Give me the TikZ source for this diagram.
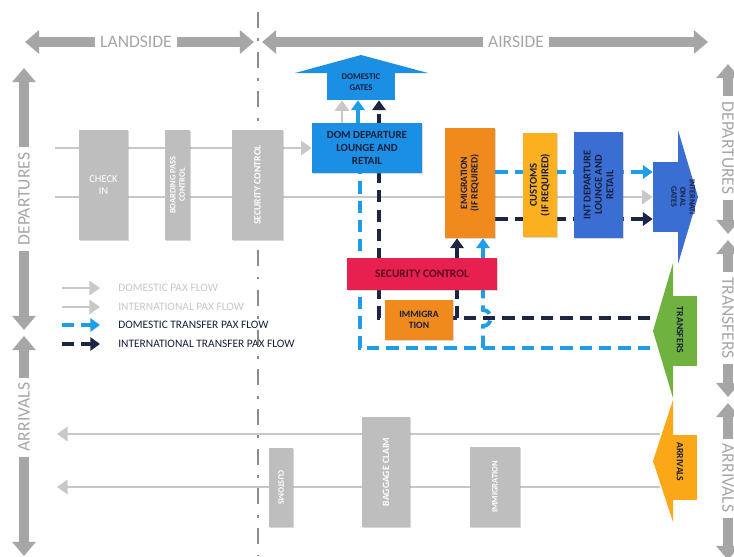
\documentclass[tikz,border=0pt]{standalone}
\usepackage{fontspec}
\setmainfont{Carlito}
\usepackage{xcolor}
\usetikzlibrary{arrows.meta,positioning,backgrounds,shadows}

\definecolor{bandgray}{RGB}{166,166,166}
\definecolor{boxgray}{RGB}{190,190,190}
\definecolor{flowgray}{RGB}{200,200,200}
\definecolor{divgray}{RGB}{140,140,140}
\definecolor{domblue}{RGB}{26,143,227}
\definecolor{intblue}{RGB}{58,110,210}
\definecolor{emigorange}{RGB}{240,138,28}
\definecolor{custyellow}{RGB}{252,176,32}
\definecolor{secred}{RGB}{232,32,80}
\definecolor{secmaroon}{RGB}{90,10,30}
\definecolor{trgreen}{RGB}{112,178,64}
\definecolor{arrorange}{RGB}{250,168,24}
\definecolor{navy}{RGB}{28,38,66}
\definecolor{domdash}{RGB}{30,158,230}
\definecolor{darktxt}{RGB}{25,30,60}

\begin{document}
\begin{tikzpicture}[
    x=0.02cm, y=-0.02cm,
    every node/.style={font=\fontsize{6}{6.5}\selectfont},
    box/.style={inner sep=0pt, drop shadow={opacity=0.3, shadow xshift=0.8pt, shadow yshift=-0.8pt}},
    greybox/.style={box, fill=boxgray},
    boxtxt/.style={font=\fontsize{5.5}{6}\selectfont\bfseries, align=center, text=darktxt},
    whitetxt/.style={boxtxt, text=white},
    band/.style={line width=5.5pt, draw=bandgray, arrows={Triangle[width=13pt,length=8pt]-Triangle[width=13pt,length=8pt]}},
    bandlbl/.style={fill=white, text=bandgray, inner xsep=3pt, inner ysep=1pt, font=\fontsize{10}{10}\selectfont},
    arrowend/.style={arrows={-Triangle[width=7.5pt,length=5.5pt]}},
    paxflow/.style={draw=flowgray, line width=1.6pt, arrows={-Triangle[width=8pt,length=6pt]}},
    domtr/.style={draw=domdash, line width=2.2pt, dash pattern=on 7pt off 4pt},
    inttr/.style={draw=navy, line width=2.2pt, dash pattern=on 7pt off 4pt},
    legtxt/.style={anchor=west, inner sep=0pt, font=\fontsize{6.5}{7}\selectfont}
]
    \useasboundingbox (0,0) rectangle (734,556);

    % Zone bands
    \draw[band] (25,42) -- (254,42);
    \draw[band] (262,42) -- (708,42);
    \node[bandlbl] (landside) at (136,42) {LANDSIDE};
    \node[bandlbl] (airside) at (516,42) {AIRSIDE};

    \draw[band] (24,68) -- (24,330);
    \draw[band] (24,336) -- (24,556);
    \node[bandlbl, rotate=90] (ldep) at (24,199) {DEPARTURES};
    \node[bandlbl, rotate=90] (larr) at (24,417) {ARRIVALS};

    \draw[band] (728,64) -- (728,234);
    \draw[band] (728,240) -- (728,397);
    \draw[band] (728,403) -- (728,560);
    \node[bandlbl, rotate=-90] (rdep) at (728,148) {DEPARTURES};
    \node[bandlbl, rotate=-90] (rtr) at (728,318) {TRANSFERS};
    \node[bandlbl, rotate=-90] (rarr) at (728,478) {ARRIVALS};

    % Landside processes
    \node[greybox, minimum width=0.98cm, minimum height=2.2cm, whitetxt, font=\fontsize{6}{6.5}\selectfont] (checkin) at (103.5,185) {CHECK\\IN};
    \node[greybox, minimum width=0.5cm, minimum height=2.2cm,
        label={[whitetxt, rotate=90, font=\fontsize{4.8}{5.2}\selectfont\bfseries]center:{BOARDING PASS\\CONTROL}}] (boarding) at (177.5,185) {};
    \node[greybox, minimum width=1.02cm, minimum height=2.2cm,
        label={[whitetxt, rotate=90]center:{SECURITY CONTROL}}] (secland) at (257.5,185) {};

    % Domestic airside
    \node[inner sep=0pt, fill=domblue, minimum width=1.36cm, minimum height=0.54cm] (domgates) at (361,86.5) {};
    \fill[domblue] (295,73) -- (361,55) -- (428,73) -- cycle;
    \node[boxtxt, font=\fontsize{5}{6}\selectfont\bfseries] (domgatestxt) at (361,82) {DOMESTIC\\GATES};
    \node[box, fill=domblue, minimum width=2.2cm, minimum height=1cm, boxtxt, font=\fontsize{6.2}{7.5}\selectfont\bfseries] (domdep) at (367,148) {DOM DEPARTURE\\LOUNGE AND\\RETAIL};

    % International airside
    \node[box, fill=emigorange, minimum width=1cm, minimum height=2.2cm,
        label={[boxtxt, rotate=90]center:{EMIGRATION\\(IF REQUIRED)}}] (emig) at (470,183) {};
    \node[box, fill=custyellow, minimum width=0.68cm, minimum height=2.08cm,
        label={[boxtxt, rotate=90, font=\fontsize{6}{6.5}\selectfont\bfseries]center:{CUSTOMS\\(IF REQUIRED)}}] (customs) at (540,185) {};
    \node[box, fill=intblue, minimum width=0.98cm, minimum height=2.12cm,
        label={[boxtxt, rotate=90, font=\fontsize{6}{6.5}\selectfont\bfseries]center:{INT DEPARTURE\\LOUNGE AND\\RETAIL}}] (intdep) at (598.5,185) {};
    \node[inner sep=0pt, fill=intblue, minimum width=0.5cm, minimum height=1.4cm] (intgates) at (665.5,197) {};
    \fill[intblue] (678,130) -- (698,197) -- (678,264) -- cycle;
    \node[boxtxt, rotate=-90, font=\fontsize{4.6}{5.2}\selectfont\bfseries] (intgatestxt) at (683,197) {INTERNATI\\ONAL\\GATES};

    % Transfer processes
    \node[box, fill=secred, minimum width=3cm, minimum height=0.64cm, boxtxt, text=secmaroon, font=\fontsize{6.5}{7}\selectfont\bfseries] (security) at (422,274) {SECURITY CONTROL};
    \node[box, fill=emigorange, minimum width=1.36cm, minimum height=0.8cm, boxtxt] (immig) at (419,320) {IMMIGRA\\TION};

    % Transfers and arrivals
    \node[inner sep=0pt, fill=trgreen, minimum width=0.48cm, minimum height=1.4cm] (transfers) at (685,331) {};
    \fill[trgreen] (673,263) -- (653,331) -- (673,398) -- cycle;
    \node[boxtxt, rotate=-90] (transferstxt) at (680,330) {TRANSFERS};
    \node[inner sep=0pt, fill=arrorange, minimum width=0.48cm, minimum height=1.3cm] (arrivals) at (685,467.5) {};
    \fill[arrorange] (673,400) -- (653,461) -- (673,522) -- cycle;
    \node[boxtxt, rotate=-90] (arrivalstxt) at (680,462) {ARRIVALS};

    % Arrivals processes
    \node[greybox, minimum width=0.48cm, minimum height=1.58cm,
        label={[whitetxt, rotate=-90, font=\fontsize{4.8}{5.2}\selectfont\bfseries]center:{CUSTOMS}}] (customsarr) at (281,487.5) {};
    \node[greybox, minimum width=0.96cm, minimum height=2.2cm,
        label={[whitetxt, rotate=90]center:{BAGGAGE CLAIM}}] (baggage) at (386,472) {};
    \node[greybox, minimum width=1cm, minimum height=1.6cm,
        label={[whitetxt, rotate=90, font=\fontsize{4.8}{5.2}\selectfont\bfseries]center:{IMMIGRATION}}] (immigarr) at (495,487) {};

    % Legend
    \node[legtxt, text=flowgray] (legdom) at (118,288) {DOMESTIC PAX FLOW};
    \node[legtxt, text=flowgray] (legint) at (118,307) {INTERNATIONAL PAX FLOW};
    \node[legtxt, text=darktxt] (legdomtr) at (118,325) {DOMESTIC TRANSFER PAX FLOW};
    \node[legtxt, text=darktxt] (leginttr) at (118,344) {INTERNATIONAL TRANSFER PAX FLOW};

    \coordinate (gx) at (342,0);
    \coordinate (bx) at (358,0);
    \coordinate (xd) at (360,0);
    \coordinate (xn) at (379,0);
    \coordinate (xe) at (457,0);
    \coordinate (xb) at (483,0);
    \coordinate (dstart) at (55,148);
    \coordinate (istart) at (55,197);
    \coordinate (trdom) at (650,348);
    \coordinate (trint) at (650,318);
    \coordinate (arrA) at (660,434);
    \coordinate (arrB) at (660,487);
    \coordinate (arrAend) at (57,434);
    \coordinate (arrBend) at (57,487);
    \coordinate (eb) at ([yshift=0.22cm]emig.east);
    \coordinate (en) at ([yshift=-0.72cm]emig.east);

    \begin{scope}[on background layer]
        \fill[white] (0,0) rectangle (734,556);
        % Airside boundary
        \draw[divgray, line width=1.7pt, dash pattern=on 9pt off 6pt on 1.6pt off 6pt] (258,12) -- (258,556);

        % Passenger flows
        \draw[paxflow] (dstart) -- (dstart -| domdep.west);
        \draw[paxflow] (istart) -- (istart -| intgates.west);
        \draw[paxflow] (domdep.north -| gx) -- (domgates.south -| gx);
        \draw[paxflow] (arrA) -- (arrAend);
        \draw[paxflow] (arrB) -- (arrBend);

        % Domestic transfers
        \draw[domtr] (trdom) -| (domdep.south -| xd);
        \draw[domtr, arrowend] (trdom -| xb) -- ++(0,-22) .. controls +(10,0) and +(10,0) .. ++(0,-16) -- (emig.south -| xb);
        \draw[domtr, arrowend] (eb) -- (eb -| intgates.west);
        \draw[domdash, line width=2.2pt, arrowend] (domdep.north -| bx) -- (domgates.south -| bx);

        % International transfers
        \draw[inttr] (trint) -| (domdep.south -| xn);
        \draw[inttr, arrowend] (trint -| xe) -- (emig.south -| xe);
        \draw[inttr, arrowend] (en) -- (en -| intgates.west);
        \draw[inttr, dash pattern=on 5pt off 2pt, arrowend] (domdep.north -| xn) -- (domgates.south -| xn);

        % Legend keys
        \draw[paxflow] ([xshift=-1.12cm]legdom.west) -- ([xshift=-0.36cm]legdom.west);
        \draw[paxflow] ([xshift=-1.12cm]legint.west) -- ([xshift=-0.36cm]legint.west);
        \draw[domtr, arrowend] ([xshift=-1.12cm]legdomtr.west) -- ([xshift=-0.36cm]legdomtr.west);
        \draw[inttr, arrowend] ([xshift=-1.12cm]leginttr.west) -- ([xshift=-0.36cm]leginttr.west);
    \end{scope}
\end{tikzpicture}
\end{document}
